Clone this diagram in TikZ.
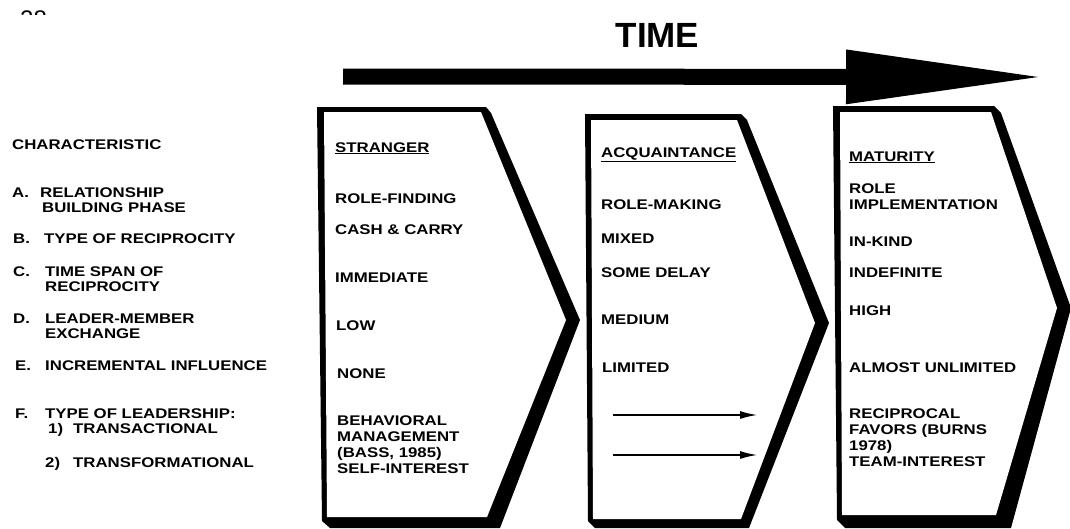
\documentclass[tikz,border=0pt]{standalone}
\usepackage{fontspec}
\setmainfont{Liberation Sans}
\newfontfamily\lab{Liberation Sans}[FakeStretch=1.2]
\usetikzlibrary{arrows.meta}
\begin{document}
\begin{tikzpicture}[x=1pt,y=-1pt,
  lbl/.style={inner sep=0pt, anchor=base west, align=left,
    font=\lab\bfseries\fontsize{14}{16}\selectfont},
  lblL/.style={lbl, font=\lab\bfseries\fontsize{14}{15}\selectfont},
  smallarrow/.style={line width=1.3pt, -{Latex[length=17pt,width=8pt]}},
  timearrow/.style={line width=16pt, -{Triangle[length=200pt,width=50pt]}}]
\useasboundingbox (0,0) rectangle (1070,528);

% cut page number
\begin{scope}
\clip (0,0) rectangle (80,14.5);
\node[inner sep=0pt, anchor=base west, font=\fontsize{24}{24}\selectfont] (pg) at (20,27.2) {28};
\end{scope}

% TIME arrow
\node[inner sep=0pt, anchor=base, font=\bfseries\fontsize{35}{35}\selectfont] (time) at (657.5,47) {TIME};
\coordinate (tS) at (343,76.5);
\coordinate (tE) at (1046,77);
\draw[timearrow] (tS) -- (tE);

% chevrons
\fill[black] (317,107) -- (486,107) -- (491,113) -- (580,320) -- (500,528) -- (330,528) -- (322,521) -- cycle;
\fill[white] (324,112) -- (481,112) -- (566,320) -- (487,517) -- (327,517) -- cycle;

\fill[black] (585,114) -- (741,114) -- (747,120) -- (829,323) -- (749,528) -- (595,528) -- (588,521) -- cycle;
\fill[white] (591,120) -- (737,120) -- (815,323) -- (741,519) -- (593,519) -- cycle;

\fill[black] (833,106) -- (994,106) -- (1001,113) -- (1071,308) -- (1011,528) -- (845,528) -- (837,520) -- cycle;
\fill[white] (840,112) -- (991,112) -- (1057,308) -- (996,515) -- (842,515) -- cycle;

% left column (multi-line nodes are placed by the baseline of their last line)
\node[lblL] (ch) at (12,149) {CHARACTERISTIC};
\node[lblL] (la) at (12,197) {A.};
\node[lblL] (ta) at (40,212) {RELATIONSHIP\\\hspace*{2pt}BUILDING PHASE};
\node[lblL] (lb) at (13,243) {B.};
\node[lblL] (tb) at (44,243) {TYPE OF RECIPROCITY};
\node[lblL] (lc) at (13,276) {C.};
\node[lblL] (tc) at (45,291) {TIME SPAN OF\\RECIPROCITY};
\node[lblL] (ld) at (13,323) {D.};
\node[lblL] (td) at (45,338) {LEADER-MEMBER\\EXCHANGE};
\node[lblL] (le) at (15,370) {E.};
\node[lblL] (te) at (45,370) {INCREMENTAL INFLUENCE};
\node[lblL] (lf) at (15,418) {F.};
\node[lblL] (tf) at (45,418) {TYPE OF LEADERSHIP:};
\node[lblL] (l1) at (48,433) {1)};
\node[lblL] (t1) at (73,433) {TRANSACTIONAL};
\node[lblL] (l2) at (45,467) {2)};
\node[lblL] (t2) at (73,467) {TRANSFORMATIONAL};

% stranger
\node[lbl] (s0) at (335,152) {\underline{STRANGER}};
\node[lbl] (s1) at (335,203) {ROLE-FINDING};
\node[lbl] (s2) at (335,234) {CASH \& CARRY};
\node[lbl] (s3) at (335,282) {IMMEDIATE};
\node[lbl] (s4) at (336,330) {LOW};
\node[lbl] (s5) at (337,378) {NONE};
\node[lbl] (s6) at (337,473) {BEHAVIORAL\\MANAGEMENT\\(BASS, 1985)\\SELF-INTEREST};

% acquaintance
\node[lbl] (a0) at (601,157) {\underline{ACQUAINTANCE}};
\node[lbl] (a1) at (601,209) {ROLE-MAKING};
\node[lbl] (a2) at (601,243) {MIXED};
\node[lbl] (a3) at (601,277) {SOME DELAY};
\node[lbl] (a4) at (601,324) {MEDIUM};
\node[lbl] (a5) at (602,372) {LIMITED};
\coordinate (p1s) at (613,415);
\coordinate (p1e) at (757,415);
\coordinate (p2s) at (613,455);
\coordinate (p2e) at (757,455);
\draw[smallarrow] (p1s) -- (p1e);
\draw[smallarrow] (p2s) -- (p2e);

% maturity
\node[lbl] (m0) at (849,161) {\underline{MATURITY}};
\node[lbl] (m1) at (849,209) {ROLE\\IMPLEMENTATION};
\node[lbl] (m2) at (849,246) {IN-KIND};
\node[lbl] (m3) at (849,277) {INDEFINITE};
\node[lbl] (m4) at (849,315) {HIGH};
\node[lbl] (m5) at (849,372) {ALMOST UNLIMITED};
\node[lbl] (m6) at (849,466) {RECIPROCAL\\FAVORS (BURNS\\1978)\\TEAM-INTEREST};
\end{tikzpicture}
\end{document}
